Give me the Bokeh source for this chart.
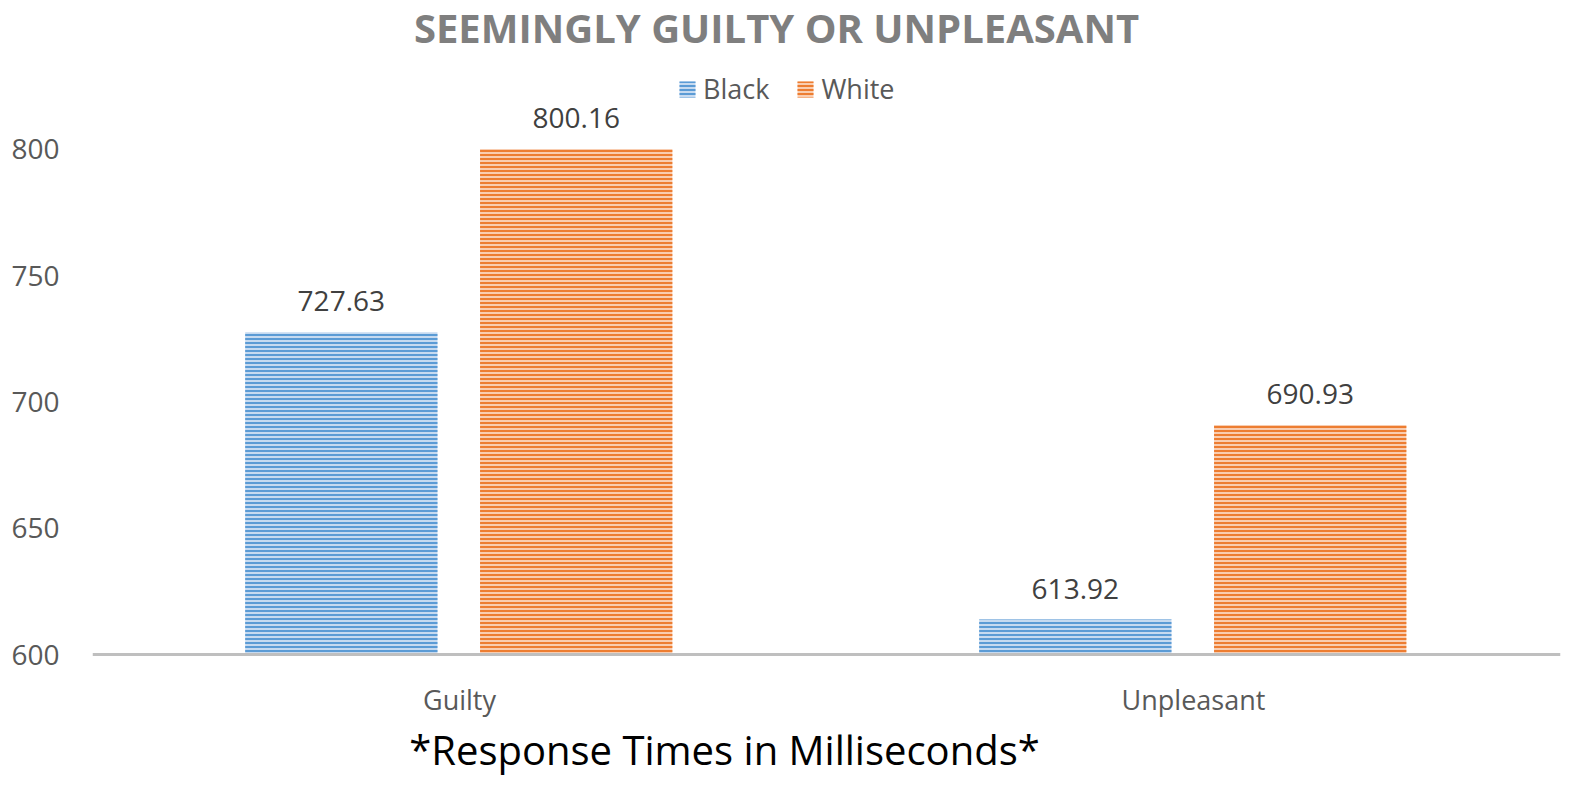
from bokeh.plotting import figure
from bokeh.models import ColumnDataSource, FactorRange, Range1d, LabelSet, Label, Legend, LegendItem, FixedTicker
from bokeh.transform import dodge
from bokeh.core.properties import value
from bokeh.embed import file_html
from bokeh.resources import INLINE

categories = ["Guilty", "Unpleasant"]
black_values = [727.63, 613.92]
white_values = [800.16, 690.93]
series_names = ["Black", "White"]
y_ticks = [600, 650, 700, 750, 800]
title_text = "SEEMINGLY GUILTY OR UNPLEASANT"
note_text = "*Response Times in Milliseconds*"

FONT = "Open Sans"
BASE = 600

src = ColumnDataSource(dict(
    cat=categories,
    black=black_values,
    white=white_values,
    black_lbl=[f"{v:.2f}" for v in black_values],
    white_lbl=[f"{v:.2f}" for v in white_values],
))

p = figure(
    width=1562, height=776,
    x_range=FactorRange(*categories, range_padding=0),
    y_range=Range1d(551.8, 858.96),
    output_backend="svg", toolbar_location=None,
    min_border_left=92, min_border_right=2, min_border_top=0, min_border_bottom=0,
)
p.outline_line_color = None
p.grid.grid_line_color = None

bw = 0.262
off_b, off_w = -0.161, 0.159
rb = p.vbar(x=dodge("cat", off_b, range=p.x_range), top="black", bottom=BASE, width=bw, source=src,
            fill_color="#C6DAF0", line_color=None,
            hatch_pattern="horizontal_line", hatch_color="#5B9BD5", hatch_scale=4, hatch_weight=2)
rw = p.vbar(x=dodge("cat", off_w, range=p.x_range), top="white", bottom=BASE, width=bw, source=src,
            fill_color="#F9CDB0", line_color=None,
            hatch_pattern="horizontal_line", hatch_color="#ED7D31", hatch_scale=4, hatch_weight=2)

for col, lbl, off in (("black", "black_lbl", off_b), ("white", "white_lbl", off_w)):
    ls = LabelSet(x=dodge("cat", off, range=p.x_range), y=col, text=lbl, source=src,
                  y_offset=31, text_align="center", text_baseline="middle",
                  text_font=value(FONT), text_font_size=value("28px"), text_color="#404040")
    p.add_layout(ls)

# axes
p.yaxis.ticker = FixedTicker(ticks=y_ticks)
p.yaxis.axis_line_color = None
p.yaxis.major_tick_line_color = None
p.yaxis.minor_tick_line_color = None
p.yaxis.major_label_standoff = 27
p.yaxis.major_label_text_font = FONT
p.yaxis.major_label_text_font_size = "28px"
p.yaxis.major_label_text_color = "#595959"

p.xaxis.fixed_location = BASE
p.xaxis.axis_line_color = "#BFBFBF"
p.xaxis.axis_line_width = 3
p.xaxis.major_tick_line_color = None
p.xaxis.minor_tick_line_color = None
p.xaxis.major_label_standoff = 20
p.xaxis.major_label_text_font = FONT
p.xaxis.major_label_text_font_size = "27px"
p.xaxis.major_label_text_color = "#595959"

# title and note
p.add_layout(Label(x=(776 - 92) / 734, y=800 + (148 - 27) / 2.51, text=title_text,
                   text_align="center", text_baseline="middle", text_font=FONT,
                   text_font_style="bold", text_font_size="40px", text_color="#7F7F7F"))
p.add_layout(Label(x=(724 - 92) / 734, y=BASE - (744 - 650) / 2.51, text=note_text,
                   text_align="center", text_baseline="middle", text_font=FONT,
                   text_font_size="40px", text_color="#000000"))

legend = Legend(items=[LegendItem(label=series_names[0], renderers=[rb]),
                       LegendItem(label=series_names[1], renderers=[rw])],
                orientation="horizontal", location=(585, 669),
                glyph_width=20, glyph_height=20, label_standoff=6, spacing=26,
                padding=0, margin=0, border_line_color=None, background_fill_alpha=0,
                label_text_font=FONT, label_text_font_size="27px", label_text_color="#595959")
p.add_layout(legend)

open("out.html", "w").write(file_html(p, INLINE))
